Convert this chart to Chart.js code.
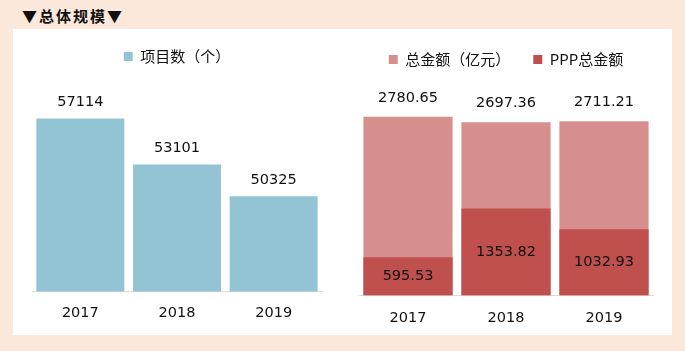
<!DOCTYPE html>
<html>
<head>
<meta charset="utf-8">
<script src="https://cdn.jsdelivr.net/npm/chart.js@4"></script>
<style>
  body { margin: 0; background: #fce8da; width: 685px; height: 351px; overflow: hidden; position: relative; font-family: "DejaVu Sans", "Noto Sans CJK SC", sans-serif; }
  #title { position: absolute; left: 22px; top: 5px; font: bold 15px "Noto Sans CJK SC", sans-serif; letter-spacing: 2px; color: #111; }
  #panel { position: absolute; left: 13px; top: 29px; width: 659px; height: 306px; background: #fff; }
  #leftWrap { position: absolute; left: 0; top: 0; width: 327px; height: 306px; }
  #rightWrap { position: absolute; left: 327px; top: 0; width: 332px; height: 312px; }
</style>
</head>
<body>
<div id="title">▼总体规模▼</div>
<div id="panel">
  <div id="leftWrap"><canvas id="countChart" width="327" height="306"></canvas></div>
  <div id="rightWrap"><canvas id="amountChart" width="332" height="312"></canvas></div>
</div>
<script>
// years and values
const years = ['2017', '2018', '2019'];
const projectCount = [57114, 53101, 50325];
const totalAmount = [2780.65, 2697.36, 2711.21];
const pppAmount = [595.53, 1353.82, 1032.93];

const FONT = '"DejaVu Sans", "Noto Sans CJK SC", sans-serif';
const CJK_FONT = '"Noto Sans CJK SC", "DejaVu Sans", sans-serif';

// simple value labels, since there is no datalabels plugin here
const valueLabels = {
    id: 'valueLabels',
    afterDatasetsDraw(chart) {
        const ctx = chart.ctx;
        ctx.save();
        ctx.font = '14.5px ' + FONT;
        ctx.fillStyle = '#111';
        ctx.textAlign = 'center';
        ctx.textBaseline = 'middle';
        chart.data.datasets.forEach((ds, i) => {
            const meta = chart.getDatasetMeta(i);
            meta.data.forEach((bar, j) => {
                const text = ds.data[j].toString();
                let y;
                if (ds.labelPos === 'center') {
                    y = (bar.y + bar.base) / 2;
                } else {
                    y = bar.y - ds.labelGap;
                }
                ctx.fillText(text, bar.x, y);
            });
        });
        ctx.restore();
    }
};

function baseOptions(yMin, yMax, pad, tickPad, legendPad) {
    return {
        responsive: false,
        animation: false,
        layout: { padding: pad },
        plugins: {
            tooltip: { enabled: false },
            legend: {
                position: 'top',
                reverse: true,
                labels: {
                    boxWidth: 9,
                    boxHeight: 9,
                    padding: legendPad,
                    color: '#111',
                    font: { size: 15, family: CJK_FONT }
                }
            }
        },
        scales: {
            x: {
                grid: { display: false, drawTicks: false },
                border: { display: true, color: '#d9d9d9', width: 1 },
                ticks: { color: '#111', padding: tickPad, font: { size: 14.5, family: FONT } }
            },
            y: {
                display: false,
                min: yMin,
                max: yMax
            }
        }
    };
}

new Chart(document.getElementById('countChart'), {
    type: 'bar',
    data: {
        labels: years,
        datasets: [{
            label: '项目数（个）',
            data: projectCount,
            backgroundColor: '#93c4d4',
            categoryPercentage: 1,
            barPercentage: 0.91,
            labelPos: 'top',
            labelGap: 16
        }]
    },
    options: baseOptions(42000, 61000, { left: 19, right: 18, top: 5, bottom: 0 }, 13, 15),
    plugins: [valueLabels]
});

new Chart(document.getElementById('amountChart'), {
    type: 'bar',
    data: {
        labels: years,
        datasets: [{
            label: 'PPP总金额',
            data: pppAmount,
            backgroundColor: '#c0504d',
            categoryPercentage: 1,
            barPercentage: 0.91,
            grouped: false,
            labelPos: 'center'
        }, {
            label: '总金额（亿元）',
            data: totalAmount,
            backgroundColor: '#d78f8d',
            categoryPercentage: 1,
            barPercentage: 0.91,
            grouped: false,
            labelPos: 'top',
            labelGap: 19
        }]
    },
    options: baseOptions(0, 3400, { left: 19, right: 19, top: 0, bottom: 0 }, 14, 23),
    plugins: [valueLabels]
});
</script>
</body>
</html>
